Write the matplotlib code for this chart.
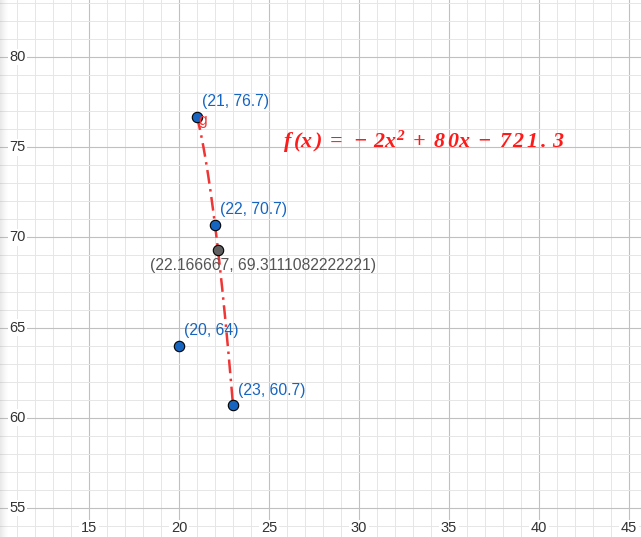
import numpy as np
import matplotlib
matplotlib.use("Agg")
import matplotlib.pyplot as plt
from matplotlib.ticker import MultipleLocator
from matplotlib.transforms import blended_transform_factory

# points shown on the graph
pt_x = [21, 22, 20, 23]
pt_y = [76.7, 70.7, 64, 60.7]
pt_labels = ["(21, 76.7)", "(22, 70.7)", "(20, 64)", "(23, 60.7)"]

# the gray point
gray_x = 22.166667
gray_y = 69.3111082222221
gray_label = "(22.166667, 69.3111082222221)"

# f(x) = a x^2 + b x + c, drawn between x = 21 and 23
coef = [-2, 80, -721.3]
f_range = (21, 23)
f_label = r"$f\,(x\,)\;=\;-\,2x^{2}\;+\;8\,0x\;-\;7\,2\,1\,.\,3$"

x_ticks = [15, 20, 25, 30, 35, 40, 45]
y_ticks = [55, 60, 65, 70, 75, 80]

plt.rcParams['font.family'] = ['Liberation Sans', 'DejaVu Sans']
plt.rcParams['mathtext.fontset'] = 'custom'
plt.rcParams['mathtext.it'] = 'Liberation Serif:italic:bold'
plt.rcParams['mathtext.rm'] = 'Liberation Serif:italic:bold'
plt.rcParams['mathtext.bf'] = 'Liberation Serif:italic:bold'

W, H = 641, 537
fig = plt.figure(figsize=(W / 100, H / 100), dpi=100)
ax = fig.add_axes([0, 0, 1, 1])
ax.set_xlim(10.056, 10.056 + W / 18)
ax.set_ylim(83.16 - H / 18.04, 83.16)

ax.xaxis.set_major_locator(MultipleLocator(5))
ax.xaxis.set_minor_locator(MultipleLocator(1))
ax.yaxis.set_major_locator(MultipleLocator(5))
ax.yaxis.set_minor_locator(MultipleLocator(1))
ax.grid(which='major', color='#c0c0c0', lw=0.8)
ax.grid(which='minor', color='#e6e6e6', lw=0.7)
ax.set_axisbelow(True)
ax.tick_params(which='both', length=0, labelbottom=False, labelleft=False)
for s in ax.spines.values():
    s.set_visible(False)

# axis numbers sit on the grid with white boxes
box = dict(facecolor='white', edgecolor='none', pad=1)
xt = blended_transform_factory(ax.transData, ax.transAxes)
yt = blended_transform_factory(ax.transAxes, ax.transData)
for t in x_ticks:
    ax.text(t, 8.5 / H, str(t), transform=xt, ha='center', va='center',
            fontsize=10.5, color='#333333', bbox=box, zorder=3)
for t in y_ticks:
    ax.text(17.5 / W, t, str(t), transform=yt, ha='center', va='center',
            fontsize=10.5, color='#333333', bbox=box, zorder=3)

# curve
xs = np.linspace(f_range[0], f_range[1], 200)
ys = np.polyval(coef, xs)
ax.plot(xs, ys, color='#f03535', lw=1.8, ls=(0, (5.5, 2.2, 1, 2.2)), zorder=4)

ax.plot(pt_x, pt_y, 'o', ms=7.5, mfc='#1565c0', mec='black', mew=0.8, zorder=5)
ax.plot([gray_x], [gray_y], 'o', ms=7.5, mfc='#606060', mec='black', mew=0.8, zorder=5)

for x, y, lab in zip(pt_x, pt_y, pt_labels):
    ax.annotate(lab, (x, y), xytext=(3.5, 10.7), textcoords='offset points',
                fontsize=11.3, color='#1565c0', va='center', ha='left', zorder=6)
ax.annotate(gray_label, (gray_x, gray_y), xytext=(-49, -11.5), textcoords='offset points',
            fontsize=11.3, color='#555555', va='center', ha='left', zorder=6)
ax.annotate("g", (pt_x[0], pt_y[0]), xytext=(1, -3), textcoords='offset points',
            fontsize=11.3, color='#f03535', va='center', ha='left', zorder=6)

ax.text(25.8, 75.3, f_label, fontsize=15.8, color='#ff1a1a', ha='left', va='center', zorder=6)

# soft shadow along the left edge
grad = np.zeros((1, 64, 4))
grad[..., :3] = 0.55
grad[0, :, 3] = np.linspace(0.35, 0, 64) ** 1.5
sh = fig.add_axes([0, 0, 9 / W, 1])
sh.imshow(grad, aspect='auto', extent=(0, 1, 0, 1))
sh.axis('off')

fig.savefig("out.png", dpi=100)
